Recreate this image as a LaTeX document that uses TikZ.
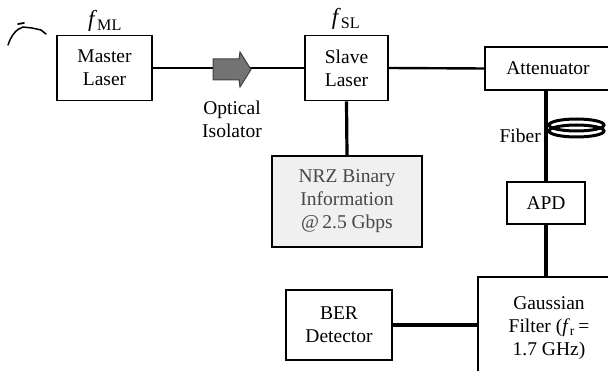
\documentclass[tikz,border=0pt]{standalone}
\usepackage{fontspec}
\setmainfont{Liberation Serif}
\begin{document}
\begin{tikzpicture}[x=1pt,y=-1pt,
  box/.style={draw=black,line width=1.6pt,fill=white,align=center,inner sep=0pt,
    font=\fontsize{19.5}{23}\selectfont},
  lbl/.style={align=center,inner sep=0pt,font=\fontsize{19.5}{23}\selectfont},
  conn/.style={line width=2.4pt},
  thick conn/.style={line width=3.2pt}]
\useasboundingbox (0,0) rectangle (608,371);
\clip (0,0) rectangle (608,371);
% nodes
\node[box,minimum width=95pt,minimum height=65pt] (ml) at (104.5,68) {Master\\Laser};
\node[box,minimum width=83pt,minimum height=65pt] (sl) at (346.5,68) {Slave\\Laser};
\node[box,minimum width=126pt,minimum height=43pt] (att) at (548,68.5) {Attenuator};
\node[box,minimum width=78pt,minimum height=42pt] (apd) at (546,203) {APD};
\node[box,minimum width=142pt,minimum height=102pt] (gf) at (549,328)
  {Gaussian\\Filter (\textit{f}\textsubscript{r}\,=\\1.7 GHz)};
\node[box,minimum width=106pt,minimum height=70pt] (ber) at (339,325) {BER\\Detector};
\node[box,minimum width=150pt,minimum height=91pt,fill=black!6,text=black!72] (nrz) at (347,201.5)
  {NRZ Binary\\Information\\@\,2.5 Gbps};
\node[lbl,font=\fontsize{23}{24}\selectfont] (fml) at (105,21) {\textit{f}\textsubscript{ML}};
\node[lbl,font=\fontsize{23}{24}\selectfont] (fsl) at (346,19) {\textit{f}\textsubscript{SL}};
\node[lbl] (iso) at (232,119) {Optical\\Isolator};
\node[lbl,anchor=east] (fib) at (541,136) {Fiber};
% connectors
\draw[conn] (ml.east) -- (sl.west);
\draw[conn] (sl.east) -- (att.west);
\draw[thick conn] (sl.south) -- (nrz.north);
\draw[thick conn] (apd.north) -- (apd.north |- att.south);
\draw[thick conn] (apd.south) -- (apd.south |- gf.north);
\draw[thick conn] (ber.east) -- (ber.east -| gf.west);
% optical isolator arrow
\draw[draw=black!75,fill=black!55,line width=1pt]
  (213,59) -- (239,59) -- (240,52) -- (251,69.5) -- (240,87) -- (239,80) -- (213,80) -- cycle;
% fiber coil
\draw[line width=3pt] (576.5,125) ellipse [x radius=27.5, y radius=6];
\draw[line width=3pt] (576.5,131) ellipse [x radius=27.5, y radius=6];
% stray pen mark
\draw[line width=1.5pt,line cap=round] (8,45) .. controls (11,36) and (16,29) .. (23,27)
  -- (32,28) -- (41,30) -- (46,34);
\draw[line width=1.8pt,line cap=round] (18,24) -- (24,23);
\end{tikzpicture}
\end{document}
